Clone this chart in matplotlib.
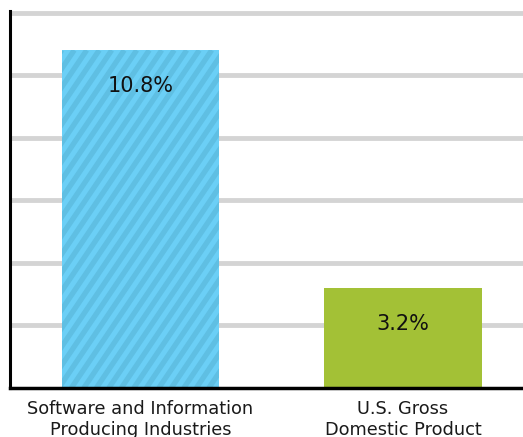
import matplotlib.pyplot as plt
from matplotlib.transforms import IdentityTransform
import numpy as np

plt.rcParams['font.family'] = ['DejaVu Sans']

# data
categories = ["Software and Information\nProducing Industries", "U.S. Gross\nDomestic Product"]
values = [10.8, 3.2]
labels = ["10.8%", "3.2%"]
gridlines = [2, 4, 6, 8, 10, 12]

fig = plt.figure(figsize=(5.23, 4.37), dpi=100)
ax = fig.add_axes([10/523, 1 - 388/437, 513/523, (388 - 11)/437])

x = np.arange(len(values))
bars = ax.bar(x, values, width=0.6, color=['#6bcff6', '#a3c136'], zorder=3)

for xi, v, lab in zip(x, values, labels):
    ax.annotate(lab, (xi, v), xytext=(0, -26), textcoords='offset points',
                ha='center', va='center', fontsize=15, color='#111111', zorder=6)

for g in gridlines:
    ax.axhline(g, color='#d4d4d4', lw=3.5, zorder=1)

ax.set_xlim(-0.497, 1.457)
ax.set_ylim(0, 12.05)
ax.set_yticks([])
ax.set_xticks(x)
ax.set_xticklabels(categories, fontsize=12.8, color='#1a1a1a', linespacing=1.2)
ax.tick_params(axis='x', length=0, pad=9)

for s in ['top', 'right']:
    ax.spines[s].set_visible(False)
ax.spines['left'].set_linewidth(2.2)
ax.spines['bottom'].set_linewidth(2.5)
ax.spines['left'].set_zorder(5)
ax.spines['bottom'].set_zorder(5)

# diagonal stripes on the first bar, drawn in pixel space and clipped to it
fig.canvas.draw()
bb = bars[0].get_window_extent()
period = 12.5
run = 1 / np.tan(np.radians(56))
h = bb.height
for x0 in np.arange(bb.x0 - h * run - period, bb.x1 + period, period):
    ln = plt.Line2D([x0, x0 + h * run], [bb.y0, bb.y1], transform=IdentityTransform(),
                    color='#5fbfe3', lw=3.8, solid_capstyle='butt', zorder=3.5)
    ax.add_line(ln)
    ln.set_clip_path(bars[0])

fig.savefig('out.png', dpi=100)
